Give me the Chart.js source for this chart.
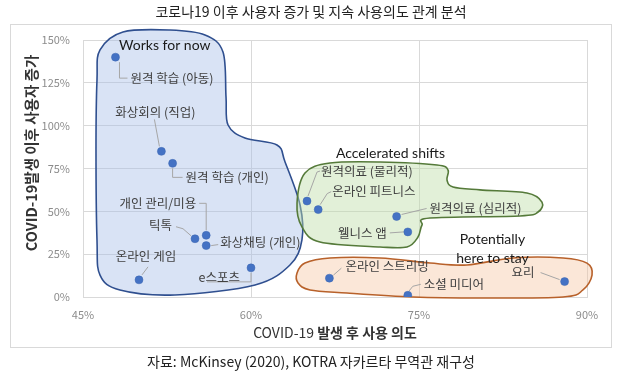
<!DOCTYPE html>
<html><head><meta charset="utf-8">
<script src="https://cdn.jsdelivr.net/npm/chart.js@4/dist/chart.umd.min.js"></script>
<style>html,body{margin:0;padding:0;background:#fff}#wrap{width:622px;height:382px}</style>
</head><body><div id="wrap"><canvas id="c" width="622" height="382"></canvas></div>
<script>
// ---- data ----
const chartTitle = '코로나19 이후 사용자 증가 및 지속 사용의도 관계 분석';
const sourceNote = '자료: McKinsey (2020), KOTRA 자카르타 무역관 재구성';
const xAxisTitleParts = ['COVID-19 ', '발생 후 사용 의도'];
const yAxisTitle = 'COVID-19발생 이후 사용자 증가';
const services = ['원격 학습 (아동)','화상회의 (직업)','원격 학습 (개인)','개인 관리/미용','틱톡','화상채팅 (개인)','온라인 게임','e스포츠',
  '원격의료 (물리적)','온라인 피트니스','원격의료 (심리적)','웰니스 앱','온라인 스트리밍','소셜 미디어','요리'];
const useIntent  = [47.9, 52.0, 53.0, 56.0, 55.0, 56.0, 50.0, 60.0, 65.0, 66.0, 73.0, 74.0, 67.0, 74.0, 88.0];
const userGrowth = [140, 85, 78, 36, 34, 30, 10, 17, 56, 51, 47, 38, 11, 1, 9];
const xTicks = [45, 60, 75, 90];
const yTicks = [0, 25, 50, 75, 100, 125, 150];
const groupNames = ['Works for now', 'Accelerated shifts', 'Potentially|here to stay'];
const groupLabelAt = [[52.3, 147], [72.45, 84], [81.56, 28.3]];
// group outlines in data units (intent %, growth %)
const blueOutline = [[46.52,144.2],[48.57,154.7],[52.77,155.8],[55.89,152.9],[57.5,143.0],[57.77,116.7],[57.95,100.4],[59.46,92.8],[62.32,88.7],[63.04,78.8],[64.38,53.7],[64.55,33.3],[63.48,18.7],[60.36,7.0],[53.21,1.2],[48.3,4.1],[46.52,12.8],[46.25,33.3],[46.16,85.8],[46.25,126.7]];
const greenOutline = [[64.82,72.4],[67.05,78.2],[71.52,78.8],[76.61,77.0],[77.59,74.1],[77.5,68.3],[78.04,64.2],[80.45,62.5],[84.64,60.7],[85.98,55.4],[85.63,49.6],[84.02,47.3],[75.98,46.1],[75.27,42.0],[74.91,35.0],[73.93,29.2],[71.52,29.2],[66.16,32.1],[64.55,40.9],[64.11,54.9]];
const orangeOutline = [[64.11,14.0],[64.82,19.8],[67.05,22.8],[71.52,22.8],[75.98,19.8],[79.29,18.7],[83.39,22.8],[87.86,22.8],[90.0,19.8],[90.45,12.8],[89.64,4.1],[87.86,0],[80.45,-0.6],[74.46,0],[68.57,2.3],[65.27,4.1],[64.2,8.2]];

// ---- presentation (pixel offsets of labels relative to their point) ----
const labelLayout = [
  {dx:15, dy:21, al:'left',   lead:[[4,5],[4,21],[12,21]]},
  {dx:-6, dy:-39, al:'center',lead:[[-2,-5],[-7,-32]]},
  {dx:13, dy:14, al:'left',   lead:[[0,5],[0,14],[10,14]]},
  {dx:-10,dy:-32, al:'right', lead:[[0,-5],[0,-32],[-7,-32]]},
  {dx:-23,dy:-13, al:'right', lead:[[-4,-3],[-12,-10],[-19,-12]]},
  {dx:14, dy:-3, al:'left',   lead:[[5,0],[12,-1]]},
  {dx:7,  dy:-24, al:'center',lead:[[3,-5],[9,-13]]},
  {dx:-11,dy:9, al:'right',   lead:[[0,5],[0,14],[-44,14]]},
  {dx:14, dy:-30, al:'left',  lead:[[1,-5],[10,-29],[13,-30]]},
  {dx:14, dy:-18, al:'left',  lead:[[2,-5],[9,-16],[13,-18]]},
  {dx:33, dy:-8, al:'left',   lead:[[5,-2],[30,-8]]},
  {dx:-21,dy:1, al:'right',   lead:[[-4,0],[-18,1]]},
  {dx:16, dy:-12, al:'left',  lead:[[4,-3],[12,-10]]},
  {dx:16, dy:-11, al:'left',  lead:[[1,-4],[5,-9],[13,-11]]},
  {dx:-30,dy:-9, al:'right',  lead:[[-5,-2],[-24,-9]]}
];
const groupStyles = [
  {fill:'rgba(164,189,230,0.42)', stroke:'#2F4F8F'},
  {fill:'rgba(190,222,168,0.45)', stroke:'#557A3A'},
  {fill:'rgba(246,194,158,0.40)', stroke:'#B8612A'}
];
const KR = '"Noto Sans CJK KR", "Noto Sans", sans-serif';

function smoothClosed(ctx, pts) {
  const n = pts.length;
  ctx.beginPath();
  ctx.moveTo(pts[0][0], pts[0][1]);
  for (let i = 0; i < n; i++) {
    const p0 = pts[(i - 1 + n) % n], p1 = pts[i], p2 = pts[(i + 1) % n], p3 = pts[(i + 2) % n];
    const t = 6;
    ctx.bezierCurveTo(p1[0] + (p2[0] - p0[0]) / t, p1[1] + (p2[1] - p0[1]) / t,
                      p2[0] - (p3[0] - p1[0]) / t, p2[1] - (p3[1] - p1[1]) / t, p2[0], p2[1]);
  }
  ctx.closePath();
}

const deco = {
  id: 'deco',
  beforeDraw(chart) {
    const ctx = chart.ctx;
    ctx.save();
    ctx.fillStyle = '#fff';
    ctx.fillRect(0, 0, chart.width, chart.height);
    ctx.strokeStyle = '#d9d9d9';
    ctx.lineWidth = 1;
    ctx.strokeRect(10.5, 24.5, 601, 323);
    ctx.restore();
  },
  beforeDatasetsDraw(chart) {
    const ctx = chart.ctx, xs = chart.scales.x, ys = chart.scales.y;
    const outlines = [blueOutline, greenOutline, orangeOutline];
    ctx.save();
    outlines.forEach((o, i) => {
      const pts = o.map(p => [xs.getPixelForValue(p[0]), ys.getPixelForValue(p[1])]);
      smoothClosed(ctx, pts);
      ctx.fillStyle = groupStyles[i].fill;
      ctx.fill();
      ctx.strokeStyle = groupStyles[i].stroke;
      ctx.lineWidth = 1.6;
      ctx.stroke();
    });
    // group labels
    ctx.fillStyle = '#1a1a1a';
    ctx.font = '14px Lato, "Liberation Sans", sans-serif';
    ctx.textAlign = 'center';
    ctx.textBaseline = 'middle';
    groupNames.forEach((g, i) => {
      const lines = g.split('|');
      const cx = xs.getPixelForValue(groupLabelAt[i][0]);
      const cy = ys.getPixelForValue(groupLabelAt[i][1]);
      const lh = 19;
      lines.forEach((ln, k) => ctx.fillText(ln, cx, cy + (k - (lines.length - 1) / 2) * lh));
    });
    // leader lines + labels
    ctx.font = '12.5px ' + KR;
    ctx.textBaseline = 'middle';
    services.forEach((s, i) => {
      const px = xs.getPixelForValue(useIntent[i]);
      const py = ys.getPixelForValue(userGrowth[i]);
      const L = labelLayout[i];
      ctx.strokeStyle = '#a6a6a6';
      ctx.lineWidth = 1;
      ctx.beginPath();
      L.lead.forEach((p, k) => {
        if (k === 0) ctx.moveTo(px + p[0], py + p[1]); else ctx.lineTo(px + p[0], py + p[1]);
      });
      ctx.stroke();
      ctx.fillStyle = '#404040';
      ctx.textAlign = L.al;
      ctx.fillText(s, px + L.dx, py + L.dy);
    });
    ctx.restore();
  },
  afterDraw(chart) {
    const ctx = chart.ctx, ca = chart.chartArea;
    ctx.save();
    ctx.textAlign = 'center';
    ctx.textBaseline = 'middle';
    ctx.fillStyle = '#222';
    ctx.font = '14px ' + KR;
    ctx.fillText(chartTitle, 311, 12);
    ctx.fillText(sourceNote, 311, 362);
    // x axis title: latin part regular, Korean part bold
    ctx.fillStyle = '#333';
    const fReg = '14px ' + KR, fBold = 'bold 14px ' + KR;
    ctx.font = fReg; const w1 = ctx.measureText(xAxisTitleParts[0]).width;
    ctx.font = fBold; const w2 = ctx.measureText(xAxisTitleParts[1]).width;
    const x0 = (ca.left + ca.right) / 2 - (w1 + w2) / 2;
    ctx.textAlign = 'left';
    ctx.font = fReg; ctx.fillText(xAxisTitleParts[0], x0, 333);
    ctx.font = fBold; ctx.fillText(xAxisTitleParts[1], x0 + w1, 333);
    ctx.textAlign = 'center';
    ctx.font = 'bold 14.5px ' + KR;
    ctx.translate(31, 153);
    ctx.rotate(-Math.PI / 2);
    ctx.fillText(yAxisTitle, 0, 0);
    ctx.restore();
  }
};

new Chart(document.getElementById('c'), {
  type: 'scatter',
  data: {
    datasets: [{
      data: services.map((s, i) => ({x: useIntent[i], y: userGrowth[i]})),
      backgroundColor: '#4472C4',
      borderColor: '#3D66B0',
      borderWidth: 0.5,
      pointRadius: 4,
      pointHoverRadius: 4
    }]
  },
  options: {
    responsive: false,
    animation: false,
    devicePixelRatio: 1,
    layout: {padding: {left: 33, right: 35, top: 40, bottom: 40}},
    plugins: {legend: {display: false}, tooltip: {enabled: false}},
    scales: {
      x: {
        type: 'linear', min: 45, max: 90,
        afterBuildTicks: s => { s.ticks = xTicks.map(v => ({value: v})); },
        afterFit: s => { s.height = 45; },
        ticks: {callback: v => v + '%', color: '#8c8c8c', padding: 11, font: {family: KR, size: 11}},
        grid: {color: '#d9d9d9', drawTicks: false},
        border: {color: '#d9d9d9'}
      },
      y: {
        type: 'linear', min: 0, max: 150,
        afterBuildTicks: s => { s.ticks = yTicks.map(v => ({value: v})); },
        afterFit: s => { s.width = 50; },
        ticks: {callback: v => v + '%', color: '#8c8c8c', padding: 13, font: {family: KR, size: 11}},
        grid: {color: '#d9d9d9', drawTicks: false},
        border: {color: '#d9d9d9'}
      }
    }
  },
  plugins: [deco]
});
</script></body></html>
